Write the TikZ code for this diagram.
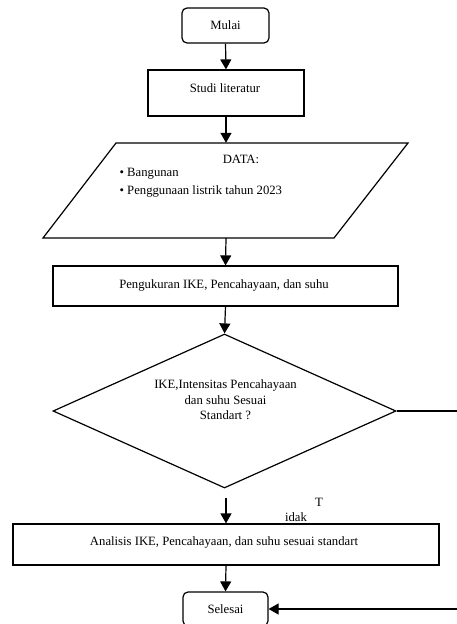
\documentclass[tikz,border=0pt]{standalone}
\usepackage{fontspec}
\setmainfont{Liberation Serif}
\usetikzlibrary{arrows.meta,shapes.geometric}
\begin{document}
\begin{tikzpicture}[x=1pt,y=-1pt,
  every node/.style={font=\fontsize{12.7}{15.5}\selectfont, inner sep=0pt},
  ln/.style={line width=1.2pt},
  stepbox/.style={draw, ln, rectangle},
  term/.style={draw, ln, rectangle, rounded corners=5pt},
  arr/.style={ln, -{Triangle[length=10pt,width=11pt]}}
]
\useasboundingbox (0,0) rectangle (457,624);

% nodes
\node[term, minimum width=87pt, minimum height=35pt] (mulai) at (225.5,25.5) {Mulai};
\node[stepbox, minimum width=156pt, minimum height=46pt] (studi) at (226,93) {};
\node (studit) at (225,88) {Studi literatur};

% data parallelogram
\node[minimum width=292pt, minimum height=95pt] (data) at (226,190.5) {};
\draw[ln, line join=miter] (116,143) -- (408,143) -- (334,238) -- (43,238) -- cycle;
\node (datat) at (241,159) {DATA:};
\node[anchor=west] (b1) at (119.4,174) {• Bangunan};
\node[anchor=west] (b2) at (119.4,191) {• Penggunaan listrik tahun 2023};

\node[stepbox, minimum width=345pt, minimum height=40pt] (ukur) at (225.5,286) {};
\node (ukurt) at (224,285) {Pengukuran IKE, Pencahayaan, dan suhu};

\node[draw, ln, diamond, minimum width=343pt, minimum height=154pt] (dia) at (224.5,411) {};
\node[align=center, font=\fontsize{12.7}{15.5}\selectfont] (diat) at (225.5,400) {IKE,Intensitas Pencahayaan\\dan suhu Sesuai\\Standart ?};

\node[stepbox, minimum width=426pt, minimum height=41pt] (anal) at (226,544.5) {};
\node (analt) at (224,542) {Analisis IKE, Pencahayaan, dan suhu sesuai standart};

\node[term, minimum width=85pt, minimum height=34pt] (selesai) at (225.5,609) {};
\node (selesait) at (225.5,609) {Selesai};

\node (tl) at (319,502) {T};
\node (il) at (296,517) {idak};

\coordinate (gap) at (226,498);
\coordinate (e1) at (458,411);
\coordinate (e2) at (458,609);

% connectors
\draw[arr] (mulai.south) -- (studi.north);
\draw[arr] (studi.south) -- (data.north);
\draw[arr] (data.south) -- (ukur.north);
\draw[arr] (ukur.south) -- (dia.north);
\draw[arr] (gap) -- (anal.north);
\draw[arr] (anal.south) -- (selesai.north);
\draw[ln] (dia.east) -- (e1);
\draw[arr] (e2) -- (selesai.east);
\end{tikzpicture}
\end{document}
